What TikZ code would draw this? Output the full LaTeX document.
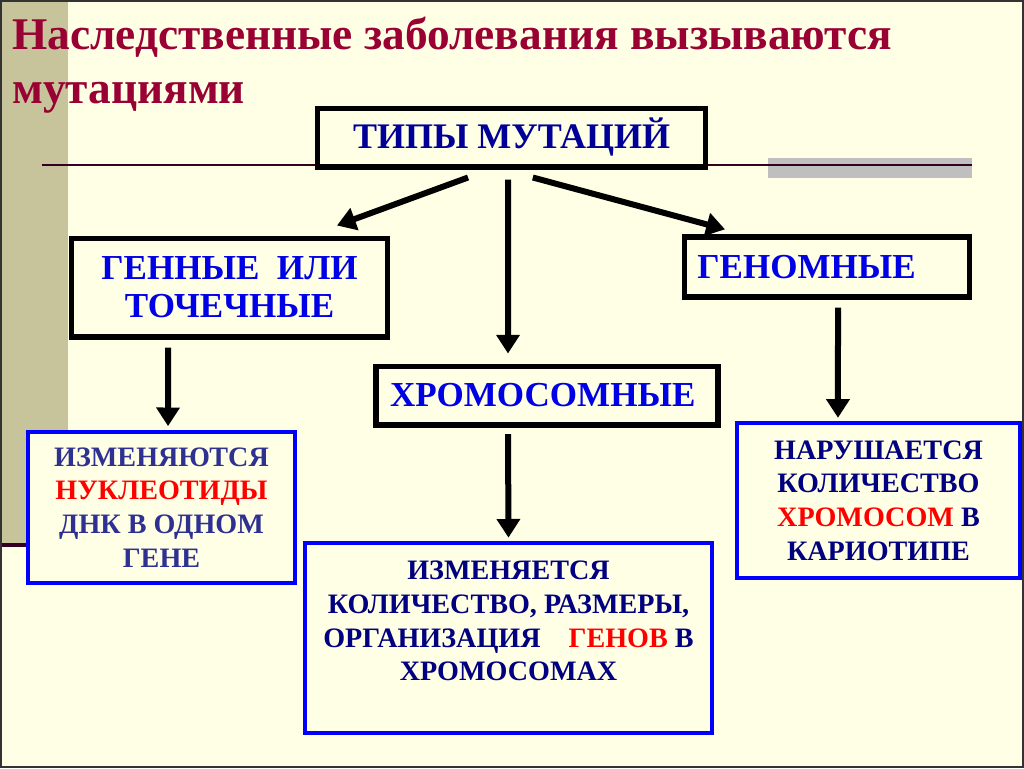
\documentclass[tikz,border=0pt]{standalone}
\usepackage{fontspec}
\setmainfont{Liberation Serif}
\usetikzlibrary{arrows.meta,positioning,calc}

\definecolor{slidebg}{RGB}{255,255,229}
\definecolor{olivebar}{RGB}{199,196,156}
\definecolor{titlered}{RGB}{153,0,51}
\definecolor{darkblue}{RGB}{0,0,153}
\definecolor{midblue}{RGB}{0,0,230}
\definecolor{navyA}{RGB}{46,49,146}
\definecolor{navyB}{RGB}{0,0,128}
\definecolor{boxblue}{RGB}{0,0,255}
\definecolor{rulemaroon}{RGB}{51,0,34}
\definecolor{rulegrey}{RGB}{191,191,191}

\begin{document}
\begin{tikzpicture}[x=0.75pt,y=-0.75pt, line join=miter,
  blackbox/.style={draw=black,line width=4pt,fill=slidebg,inner sep=0pt},
  bluebox/.style={draw=boxblue,line width=3pt,fill=slidebg,inner sep=0pt},
  typetext/.style={font=\fontsize{26.3}{28.5}\selectfont\bfseries,text=midblue},
  restext/.style={font=\fontsize{21.1}{25.3}\selectfont\bfseries,align=center},
  arr/.style={line width=4.5pt,-{Triangle[length=14pt,width=17pt]}}]
\useasboundingbox (0,0) rectangle (1024,768);
\fill[slidebg] (0,0) rectangle (1024,768);
\fill[olivebar] (2,2) rectangle (68,543);
\draw[rulemaroon,line width=3pt] (0,545) -- (60,545);
\fill[rulegrey] (768,158) rectangle (972,178);
\draw[rulemaroon,line width=1.5pt] (42,165) -- (972,165);
\draw[black!80,line width=1.5pt] (1,1) rectangle (1023,767);

% title
\node[anchor=base west,align=left,inner sep=0pt,text=titlered,
  font=\fontsize{34}{40.5}\selectfont\bfseries] (title) at (12,103)
  {Наследственные заболевания вызываются\\мутациями};

% boxes
\node[blackbox,minimum width=291pt,minimum height=44pt,text=darkblue,
  font=\fontsize{27}{30}\selectfont\bfseries] (types) at (511.5,137.5) {ТИПЫ МУТАЦИЙ};
\node[blackbox,minimum width=237pt,minimum height=74pt,typetext,align=center] (gene) at (229.5,287.5) {ГЕННЫЕ\ \ ИЛИ\\ТОЧЕЧНЫЕ};
\node[blackbox,minimum width=214pt,minimum height=45pt,typetext,text width=194.5pt,align=left] (genome) at (827,267) {ГЕНОМНЫЕ};
\node[blackbox,minimum width=256.5pt,minimum height=44pt,typetext,text width=235.5pt,align=left] (chrom) at (547,395.5) {ХРОМОСОМНЫЕ};

\node[bluebox,minimum width=200pt,minimum height=113pt,restext,text=navyA] (res1) at (161.5,507.5)
  {ИЗМЕНЯЮТСЯ\\\textcolor{red}{НУКЛЕОТИДЫ}\\ДНК В ОДНОМ\\ГЕНЕ};
\node[bluebox,minimum width=305pt,minimum height=142.5pt] (res2) at (508.5,638) {};
\node[restext,text=navyB,inner sep=0pt] (res2txt) at (508.5,621)
  {ИЗМЕНЯЕТСЯ\\КОЛИЧЕСТВО, РАЗМЕРЫ,\\ОРГАНИЗАЦИЯ\quad\textcolor{red}{ГЕНОВ} В\\ХРОМОСОМАХ};
\node[bluebox,minimum width=212pt,minimum height=116pt,restext,text=navyB] (res3) at (878.5,500.5)
  {НАРУШАЕТСЯ\\КОЛИЧЕСТВО\\\textcolor{red}{ХРОМОСОМ} В\\КАРИОТИПЕ};

% arrows
\draw[arr] ([xshift=-32.6pt,yshift=-6pt]types.south) -- ([xshift=80.6pt,yshift=7.5pt]gene.north);
\draw[arr] ([xshift=-2.6pt,yshift=-7.5pt]types.south) -- ([xshift=-29.25pt,yshift=7.5pt]chrom.north);
\draw[arr] ([xshift=16pt,yshift=-6pt]types.south) -- ([xshift=-76.5pt,yshift=3.75pt]genome.north);
\draw[arr] ([xshift=-46pt,yshift=-6pt]gene.south) -- ([xshift=4.9pt,yshift=3pt]res1.north);
\draw[arr] ([xshift=-29.25pt,yshift=-5pt]chrom.south) -- ([yshift=2.5pt]res2.north);
\draw[arr] ([xshift=8.25pt,yshift=-6pt]genome.south) -- ([xshift=-30.4pt,yshift=2.5pt]res3.north);
\end{tikzpicture}
\end{document}
